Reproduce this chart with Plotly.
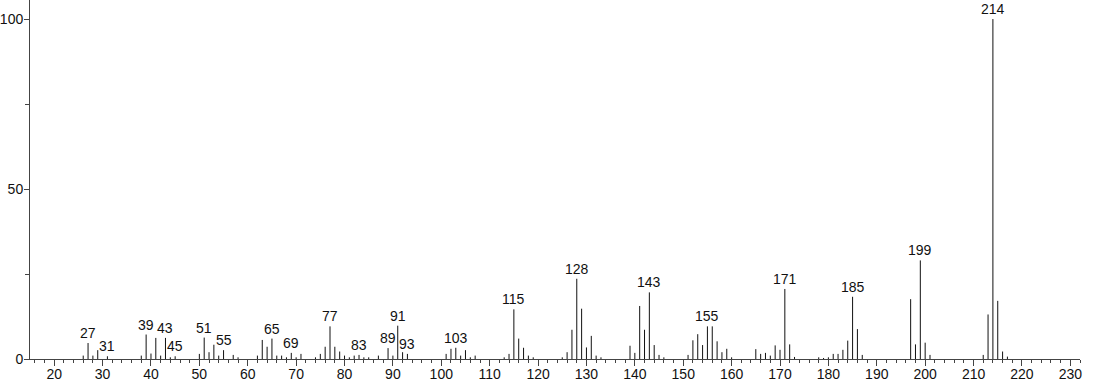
import plotly.graph_objects as go

mz = [26, 27, 28, 29, 31, 38, 39, 40, 41, 42, 43, 44, 45, 50, 51, 52, 53, 54, 55, 57, 58,
      62, 63, 64, 65, 66, 67, 68, 69, 70, 71, 74, 75, 76, 77, 78, 79, 80, 81, 82, 83, 84, 85,
      87, 89, 90, 91, 92, 93, 101, 102, 103, 104, 105, 106, 107, 113, 114, 115, 116, 117, 118,
      119, 125, 126, 127, 128, 129, 130, 131, 132, 133, 139, 140, 141, 142, 143, 144, 145, 146,
      151, 152, 153, 154, 155, 156, 157, 158, 159, 160, 165, 166, 167, 168, 169, 170, 171, 172,
      173, 178, 179, 180, 181, 182, 183, 184, 185, 186, 187, 197, 198, 199, 200, 201, 212, 213,
      214, 215, 216, 217]
intensity = [1.0, 4.7, 1.0, 2.6, 0.8, 1.0, 7.2, 1.6, 6.2, 1.0, 6.2, 0.5, 0.8, 1.5, 6.3, 2.0, 4.2,
             1.0, 2.6, 1.2, 0.5, 1.0, 5.6, 3.6, 6.0, 1.0, 1.0, 0.5, 1.8, 0.5, 1.5, 0.5, 1.5, 3.6,
             9.6, 3.6, 2.2, 1.0, 0.5, 1.0, 1.2, 0.5, 0.5, 1.0, 3.2, 1.0, 9.8, 2.0, 1.5, 1.5, 3.0,
             3.3, 1.0, 2.6, 0.5, 1.0, 0.5, 1.5, 14.6, 6.0, 3.3, 1.0, 0.5, 0.5, 2.0, 8.6, 23.6,
             14.8, 3.4, 6.8, 1.0, 0.5, 3.9, 1.8, 15.6, 8.6, 19.6, 4.1, 1.2, 0.5, 1.2, 5.5, 7.3,
             4.1, 9.6, 9.6, 5.2, 2.0, 3.0, 0.5, 2.9, 1.5, 1.8, 1.0, 4.0, 2.7, 20.6, 4.3, 0.6,
             0.5, 0.3, 0.5, 1.5, 1.5, 2.7, 5.4, 18.3, 8.8, 1.2, 17.6, 4.3, 29.0, 4.8, 1.2, 1.2,
             13.1, 100.0, 17.1, 2.2, 0.7]
labeled = [27, 31, 39, 43, 45, 51, 55, 65, 69, 77, 83, 89, 91, 93, 103, 115, 128, 143, 155,
           171, 185, 199, 214]

x_tick_vals = list(range(20, 231, 10))
y_tick_vals = [0, 50, 100]

FONT = "Arial, Liberation Sans, sans-serif"

# stick spectrum: one vertical segment per peak, built from the data arrays
xs, ys = [], []
for m, v in zip(mz, intensity):
    xs += [m, m, None]
    ys += [0, v, None]

fig = go.Figure()
fig.add_trace(go.Scatter(
    x=xs, y=ys, mode="lines",
    line=dict(color="#111111", width=1),
    hoverinfo="skip",
))

lookup = dict(zip(mz, intensity))
for m in labeled:
    fig.add_annotation(
        x=m, y=lookup[m], text=str(m), showarrow=False,
        yanchor="bottom", xanchor="center", yshift=0,
        font=dict(family=FONT, size=14, color="#111"),
    )

fig.update_layout(
    width=1094, height=384,
    margin=dict(l=30, r=14, t=0, b=25),
    paper_bgcolor="white", plot_bgcolor="white",
    showlegend=False,
    font=dict(family=FONT, size=14, color="#111"),
    xaxis=dict(
        range=[15, 232], tickmode="array", tickvals=x_tick_vals,
        ticks="outside", ticklen=6, tickwidth=1, tickcolor="#444",
        showline=True, linecolor="#444", linewidth=1,
        showgrid=False, zeroline=False, automargin=False,
        minor=dict(dtick=2, tick0=0, ticks="outside", ticklen=3, tickcolor="#444", showgrid=False),
        tickfont=dict(family=FONT, size=14, color="#111"),
        ticklabelstandoff=-4,
    ),
    yaxis=dict(
        range=[0, 105.6], tickmode="array", tickvals=y_tick_vals,
        ticks="outside", ticklen=5, tickwidth=1, tickcolor="#444",
        showline=True, linecolor="#444", linewidth=1,
        showgrid=False, zeroline=False, automargin=False,
        minor=dict(tickvals=[25, 75], ticks="outside", ticklen=4, tickcolor="#444", showgrid=False),
        tickfont=dict(family=FONT, size=14, color="#111"),
        ticklabelstandoff=-2,
    ),
)

fig.write_html(
    "out.html",
    config={"displayModeBar": False},
    post_script="document.body.style.margin='0';document.body.style.padding='0';",
)
